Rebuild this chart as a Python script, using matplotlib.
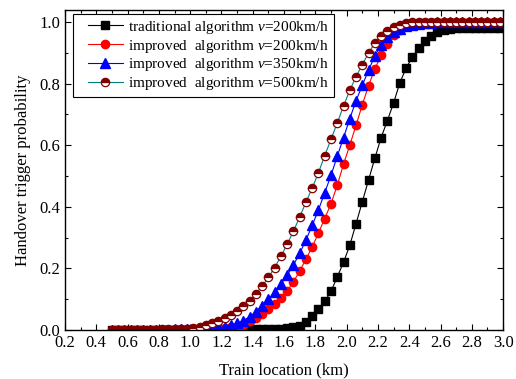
import matplotlib
matplotlib.use('Agg')
import matplotlib.pyplot as plt
from matplotlib.ticker import MultipleLocator
from matplotlib.lines import Line2D
from matplotlib.legend_handler import HandlerLine2D

plt.rcParams['font.family'] = ['Liberation Serif', 'DejaVu Serif']
plt.rcParams['mathtext.fontset'] = 'custom'
plt.rcParams['mathtext.rm'] = 'Liberation Serif'
plt.rcParams['mathtext.it'] = 'Liberation Serif:italic'

# train location (km)
location = [0.50, 0.54, 0.58, 0.62, 0.66, 0.70, 0.74, 0.78, 0.82, 0.86,
            0.90, 0.94, 0.98, 1.02, 1.06, 1.10, 1.14, 1.18, 1.22, 1.26,
            1.30, 1.34, 1.38, 1.42, 1.46, 1.50, 1.54, 1.58, 1.62, 1.66,
            1.70, 1.74, 1.78, 1.82, 1.86, 1.90, 1.94, 1.98, 2.02, 2.06,
            2.10, 2.14, 2.18, 2.22, 2.26, 2.30, 2.34, 2.38, 2.42, 2.46,
            2.50, 2.54, 2.58, 2.62, 2.66, 2.70, 2.74, 2.78, 2.82, 2.86,
            2.90, 2.94, 2.98]

trad_200 = [0.000, 0.000, 0.000, 0.000, 0.000, 0.000, 0.000, 0.000, 0.000, 0.000,
            0.000, 0.000, 0.000, 0.000, 0.000, 0.000, 0.001, 0.001, 0.001, 0.001,
            0.001, 0.002, 0.002, 0.002, 0.003, 0.003, 0.004, 0.005, 0.006, 0.009,
            0.014, 0.025, 0.045, 0.068, 0.093, 0.126, 0.172, 0.220, 0.275, 0.345,
            0.416, 0.487, 0.557, 0.624, 0.679, 0.737, 0.802, 0.850, 0.886, 0.914,
            0.938, 0.955, 0.966, 0.973, 0.977, 0.979, 0.980, 0.981, 0.981, 0.981,
            0.981, 0.981, 0.981]

impr_200 = [0.000, 0.000, 0.000, 0.000, 0.000, 0.001, 0.001, 0.001, 0.001, 0.001,
            0.001, 0.002, 0.002, 0.002, 0.003, 0.004, 0.005, 0.006, 0.007, 0.009,
            0.011, 0.018, 0.028, 0.040, 0.053, 0.068, 0.085, 0.104, 0.127, 0.157,
            0.192, 0.230, 0.270, 0.315, 0.362, 0.410, 0.470, 0.538, 0.600, 0.664,
            0.731, 0.793, 0.847, 0.891, 0.928, 0.957, 0.975, 0.985, 0.991, 0.994,
            0.996, 0.997, 0.998, 0.998, 0.999, 0.999, 0.999, 0.999, 0.999, 0.999,
            0.999, 0.999, 0.999]

impr_350 = [0.000, 0.000, 0.000, 0.000, 0.001, 0.001, 0.001, 0.001, 0.001, 0.001,
            0.002, 0.002, 0.002, 0.003, 0.004, 0.005, 0.006, 0.008, 0.011, 0.015,
            0.022, 0.031, 0.044, 0.059, 0.079, 0.100, 0.124, 0.150, 0.178, 0.211,
            0.249, 0.292, 0.340, 0.390, 0.446, 0.502, 0.564, 0.624, 0.686, 0.744,
            0.794, 0.843, 0.889, 0.925, 0.950, 0.966, 0.978, 0.986, 0.991, 0.994,
            0.996, 0.997, 0.998, 0.999, 1.000, 1.000, 1.000, 1.000, 1.000, 1.000,
            1.000, 1.000, 1.000]

impr_500 = [0.000, 0.000, 0.000, 0.000, 0.001, 0.001, 0.001, 0.001, 0.002, 0.002,
            0.002, 0.003, 0.004, 0.007, 0.011, 0.015, 0.022, 0.029, 0.039, 0.049,
            0.061, 0.077, 0.095, 0.117, 0.143, 0.171, 0.203, 0.239, 0.279, 0.321,
            0.367, 0.415, 0.461, 0.511, 0.566, 0.619, 0.672, 0.727, 0.778, 0.822,
            0.861, 0.899, 0.931, 0.954, 0.971, 0.984, 0.991, 0.996, 0.998, 0.999,
            1.000, 1.000, 1.000, 1.000, 1.000, 1.000, 1.000, 1.000, 1.000, 1.000,
            1.000, 1.000, 1.000]

labels = ['traditional algorithm $v$=200km/h',
          'improved  algorithm $v$=200km/h',
          'improved  algorithm $v$=350km/h',
          'improved  algorithm $v$=500km/h']

fig = plt.figure(figsize=(5.16, 3.79), dpi=100)
ax = fig.add_axes([0.126, 0.129, 0.849, 0.845])

ax.plot(location, trad_200, color='black', lw=0.8, marker='s', ms=5.5,
        mfc='black', mec='black', label=labels[0])
ax.plot(location, impr_200, color='red', lw=0.8, marker='o', ms=6,
        mfc='red', mec='red', label=labels[1])
ax.plot(location, impr_350, color='blue', lw=0.8, marker='^', ms=6.5,
        mfc='blue', mec='blue', label=labels[2])
ax.plot(location, impr_500, color='#008080', lw=0.8, marker='o', ms=6,
        fillstyle='top', mfc='#800000', mfcalt='white', mec='#800000', mew=0.9,
        label=labels[3])

ax.set_xlim(0.2, 3.0)
ax.set_ylim(0.0, 1.039)
ax.xaxis.set_major_locator(MultipleLocator(0.2))
ax.xaxis.set_minor_locator(MultipleLocator(0.1))
ax.yaxis.set_major_locator(MultipleLocator(0.2))
ax.yaxis.set_minor_locator(MultipleLocator(0.1))
ax.xaxis.set_major_formatter(plt.FormatStrFormatter('%.1f'))
ax.yaxis.set_major_formatter(plt.FormatStrFormatter('%.1f'))
ax.tick_params(which='both', direction='in', top=True, right=True, labelsize=12)
ax.tick_params(which='major', length=4, width=0.8)
ax.tick_params(which='minor', length=2.5, width=0.8)
for s in ax.spines.values():
    s.set_linewidth(1.0)

ax.set_xlabel('Train location (km)', fontsize=12, labelpad=8)
ax.set_ylabel('Handover trigger probability', fontsize=12, labelpad=6)

# shift the handle line right inside its box so the left padding is wider
leg = ax.legend(loc='upper left', bbox_to_anchor=(0.018, 0.988), borderaxespad=0,
                fontsize=11, fancybox=False, edgecolor='black', framealpha=1,
                handlelength=2.95, handletextpad=0.35, labelspacing=0.12,
                borderpad=0.33, handler_map={Line2D: HandlerLine2D(xpad=0.65)})
leg.get_frame().set_linewidth(0.8)

fig.savefig('out.png', dpi=100)
